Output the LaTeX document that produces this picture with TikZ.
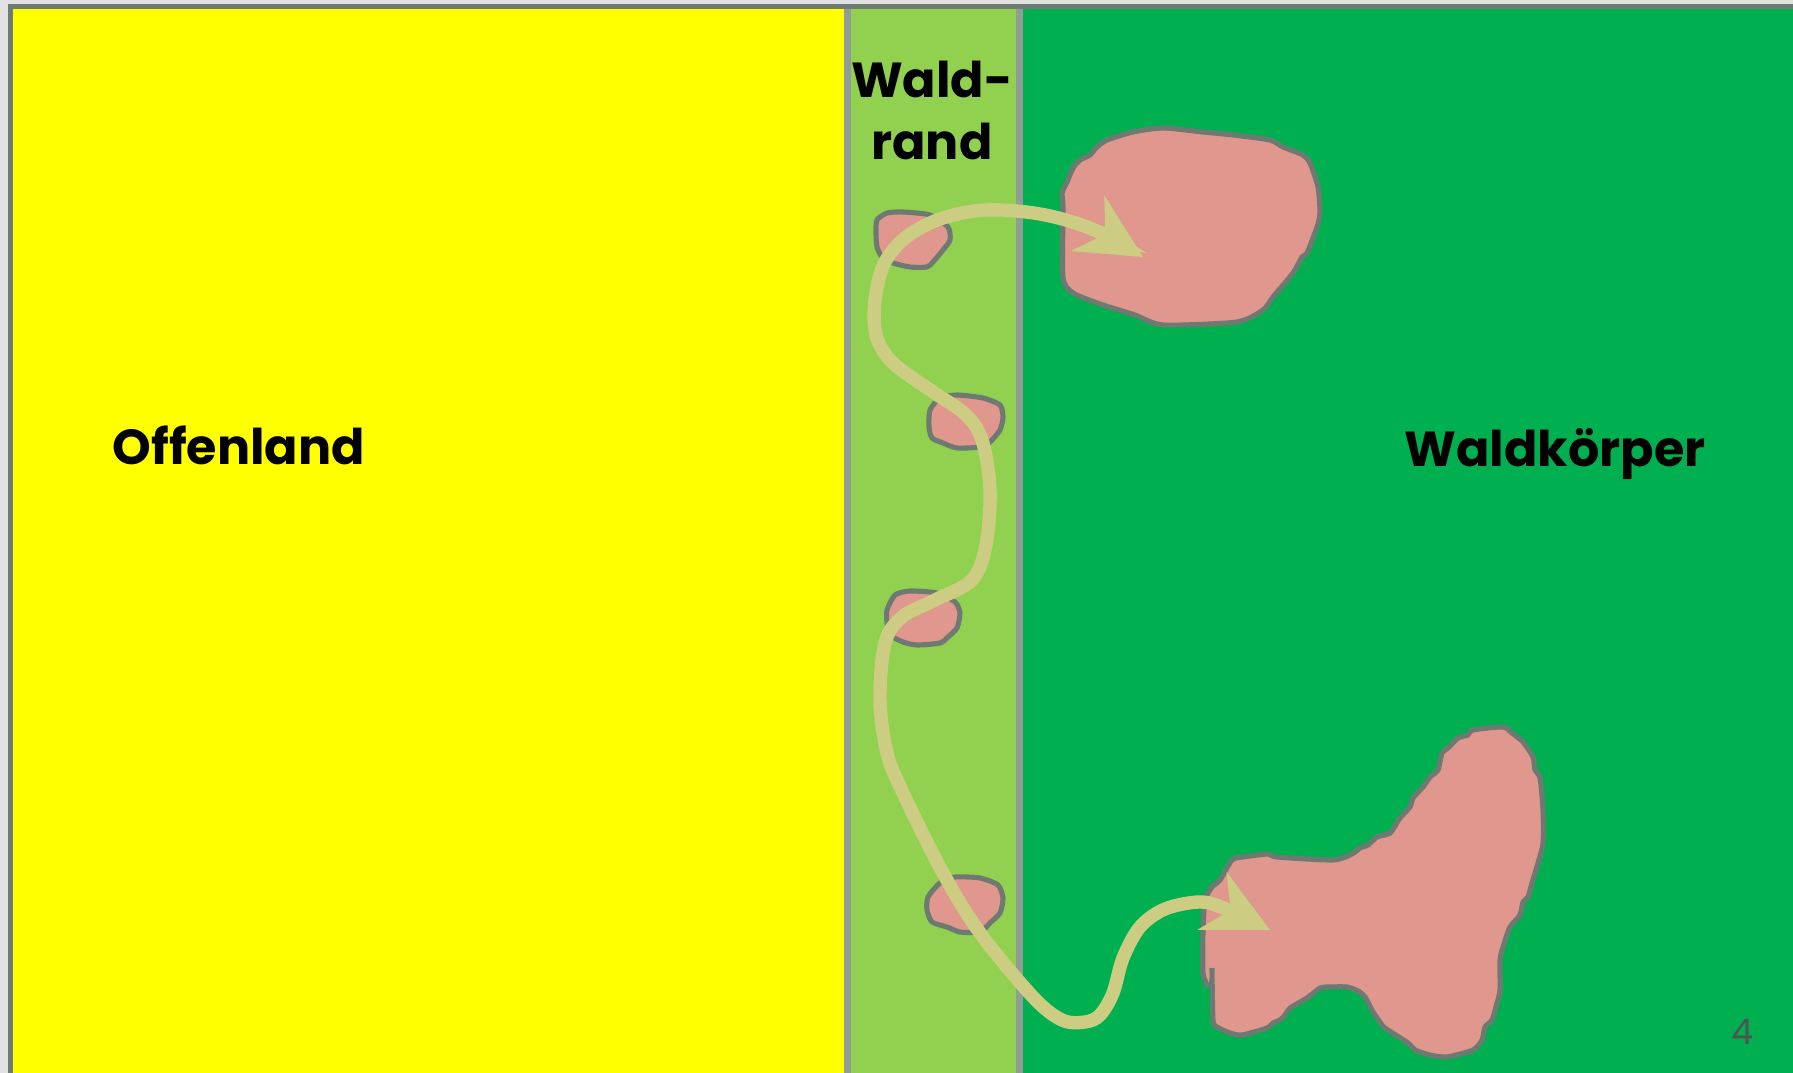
\documentclass[tikz,border=0pt]{standalone}
\usepackage{fontspec}
\setmainfont{Poppins}
\usetikzlibrary{arrows.meta}
\definecolor{aussen}{HTML}{E1E1E1}
\definecolor{rahmen}{HTML}{6F7A72}
\definecolor{offen}{HTML}{FFFF00}
\definecolor{saum}{HTML}{92D050}
\definecolor{wald}{HTML}{00B050}
\definecolor{trenner}{HTML}{909D97}
\definecolor{lichtung}{HTML}{E0978D}
\definecolor{umriss}{HTML}{6E7A71}
\definecolor{pfad}{HTML}{CCCD82}

\begin{document}
\begin{tikzpicture}[x=0.01cm, y=-0.01cm,
    divider/.style={draw=trenner, line width=2pt},
    gap/.style={fill=lichtung, draw=umriss, line width=1.45pt, line join=round},
    zonelabel/.style={font=\fontsize{14}{17.9}\selectfont\bfseries, inner sep=0pt},
    pfeil/.tip={Stealth[length=0.65cm, width=0.65cm, inset=0.21cm, line width=0pt]},
    track/.style={draw=pfad, line width=3.8pt, line cap=round, pfeil-pfeil},
]
\useasboundingbox (0,0) rectangle (1793,1073);
\fill[aussen] (0,0) rectangle (1793,1073);
% zones
\fill[offen] (13,9) rectangle (847,1073);
\fill[saum]  (847,9) rectangle (1020,1073);
\fill[wald]  (1020,9) rectangle (1793,1073);
\draw[divider] (847.5,7) -- (847.5,1073);
\draw[divider] (1019.5,7) -- (1019.5,1073);
\draw[rahmen, line width=1.45pt] (10.5,1073) -- (10.5,6.5) -- (1793,6.5);

\node[zonelabel, anchor=base west] (offenland) at (112,465) {Offenland};
\node[zonelabel, anchor=base, align=center] (waldrand) at (932,160) {Wald-\\rand};
\node[zonelabel, anchor=base west] (waldkoerper) at (1404,466) {Waldkörper};

% gaps in the canopy
\filldraw[gap] plot[smooth cycle, tension=0.4] coordinates {(1062,193) (1067,182) (1073,168) (1080,160)
   (1090,155) (1097,147) (1107,140) (1133,132) (1163,128) (1203,132) (1233,135) (1270,140) (1283,147)
   (1303,155) (1310,163) (1318,187) (1320,213) (1317,227) (1307,253) (1302,257) (1293,273) (1273,297)
   (1263,310) (1237,322) (1163,325) (1135,315) (1103,305) (1073,293) (1063,277) (1063,207)};
\filldraw[gap] plot[smooth cycle, tension=0.4] coordinates {(876,233) (877,220) (887,213) (903,212)
   (930,215) (948,227) (950,240) (943,250) (933,262) (927,267) (910,267) (893,263) (882,257) (877,247)};
\filldraw[gap] plot[smooth cycle, tension=0.4] coordinates {(929,427) (930,410) (940,398) (957,395)
   (983,398) (1000,405) (1003,417) (1000,430) (990,442) (980,447) (957,448) (943,443) (932,438)};
\filldraw[gap] plot[smooth cycle, tension=0.4] coordinates {(887,623) (887,610) (895,595) (910,591)
   (937,593) (955,602) (960,613) (957,628) (948,637) (940,643) (917,645) (903,642) (890,635)};
\filldraw[gap] plot[smooth cycle, tension=0.4] coordinates {(927,910) (928,897) (940,883) (955,877)
   (980,878) (998,885) (1003,898) (1000,913) (990,923) (980,932) (960,932) (947,927) (932,922)};
\filldraw[gap] plot[smooth, tension=0.4] coordinates {(1212,968) (1213,1020) (1217,1027) (1230,1033)
   (1242,1035) (1267,1028) (1273,1023) (1280,1020) (1285,1015) (1290,1008) (1307,998) (1320,988)
   (1328,987) (1347,987) (1358,991) (1365,997) (1373,1012) (1380,1022) (1385,1028) (1408,1043)
   (1415,1050) (1430,1055) (1447,1057) (1473,1050) (1482,1040) (1485,1027) (1492,1020) (1497,1003)
   (1500,990) (1500,960) (1503,947) (1510,927) (1520,915) (1523,902) (1528,897) (1532,883) (1538,863)
   (1543,843) (1543,810) (1540,778) (1535,770) (1533,757) (1523,742) (1512,733) (1503,727) (1473,730)
   (1468,735) (1458,738) (1448,748) (1442,753) (1438,770) (1430,777) (1423,787) (1413,798) (1410,807)
   (1400,818) (1390,833) (1377,837) (1368,845) (1360,848) (1352,854) (1333,860) (1277,857) (1268,854)
   (1243,857) (1232,860) (1220,880) (1212,887) (1205,900) (1203,933) (1203,973) (1208,987)};

% route through the edge
\draw[track] plot[smooth, tension=0.55] coordinates {(1143,257) (1092,229) (1040,214) (985,210)
   (940,219) (905,238) (884,264) (875,300) (876,335) (892,362) (930,390) (965,414) (982,440)
   (990,490) (986,545) (972,580) (935,600) (902,617) (885,643) (880,700) (887,753) (903,793)
   (943,873) (980,933) (1033,997) (1062,1020) (1085,1022) (1100,1015) (1113,993) (1123,958)
   (1140,927) (1165,909) (1200,902) (1226,909) (1270,930)};

\node[font=\fontsize{10}{12}\selectfont, text=rahmen!70!black, inner sep=0pt] (seite) at (1743,1032) {4};
\end{tikzpicture}
\end{document}
